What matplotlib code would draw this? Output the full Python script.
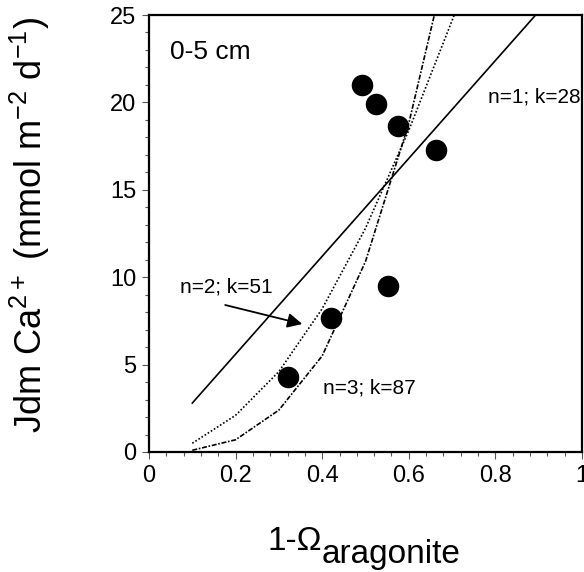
import matplotlib
matplotlib.use("Agg")
import matplotlib.pyplot as plt
from matplotlib.ticker import MultipleLocator

plt.rcParams['font.family'] = ['Liberation Sans', 'DejaVu Sans']
plt.rcParams['mathtext.fontset'] = 'custom'
plt.rcParams['mathtext.rm'] = 'Liberation Sans'
plt.rcParams['mathtext.it'] = 'Liberation Sans'
plt.rcParams['mathtext.bf'] = 'Liberation Sans'

# Observed data points
obs_x = [0.493, 0.524, 0.574, 0.663, 0.552, 0.421, 0.320]
obs_y = [21.0, 19.9, 18.65, 17.3, 9.5, 7.65, 4.3]

# Model curves
n1_x = [0.1, 0.893]
n1_y = [2.8, 25.0]
n2_x = [0.1, 0.2, 0.3, 0.4, 0.5, 0.6, 0.705]
n2_y = [0.5, 2.1, 4.6, 8.2, 12.8, 18.4, 25.0]
n3_x = [0.1, 0.2, 0.3, 0.4, 0.5, 0.6, 0.659]
n3_y = [0.1, 0.7, 2.4, 5.5, 10.9, 18.8, 25.0]

x_ticks = [0, 0.2, 0.4, 0.6, 0.8, 1]
x_ticklabels = ['0', '0.2', '0.4', '0.6', '0.8', '1']
y_ticks = [0, 5, 10, 15, 20, 25]

fig = plt.figure(figsize=(5.84, 5.72), dpi=100)
ax = fig.add_axes([149/584, 1-452/572, (582-149)/584, (452-15)/572])

ax.plot(n1_x, n1_y, color='black', lw=1.2, ls='-')
ax.plot(n2_x, n2_y, color='black', lw=1.2, ls=(0, (1, 1.2)))
ax.plot(n3_x, n3_y, color='black', lw=1.2, ls=(0, (3, 1, 1, 1)))
ax.plot(obs_x, obs_y, 'o', color='black', ms=14.5, ls='none')

ax.set_xlim(0, 1)
ax.set_ylim(0, 25)
ax.set_xticks(x_ticks)
ax.set_xticklabels(x_ticklabels)
ax.set_yticks(y_ticks)
ax.xaxis.set_minor_locator(MultipleLocator(0.04))
ax.yaxis.set_minor_locator(MultipleLocator(1))
ax.tick_params(axis='both', which='major', direction='out', length=5, width=0.8,
               labelsize=17, pad=4, color='#555555')
ax.tick_params(axis='both', which='minor', direction='out', length=3, width=0.8,
               color='#555555')
for s in ax.spines.values():
    s.set_linewidth(1.6)

ax.text(0.049, 22.9, '0-5 cm', fontsize=19, va='center', ha='left')
ax.text(0.783, 20.3, 'n=1; k=28', fontsize=15, va='center', ha='left')
ax.text(0.072, 9.44, 'n=2; k=51', fontsize=15, va='center', ha='left')
ax.text(0.401, 3.66, 'n=3; k=87', fontsize=15, va='center', ha='left')
ax.annotate('', xy=(0.354, 7.32), xytext=(0.176, 8.41),
            arrowprops=dict(arrowstyle='-|>', color='black', lw=1.3,
                            mutation_scale=22, shrinkA=0, shrinkB=0))

fig.text(30/584, 1-225/572, r'Jdm Ca$^{2+}$ (mmol m$^{\mathrm{-2}}$ d$^{\mathrm{-1}}$)',
         rotation=90, fontsize=26, ha='center', va='center')

fig.text(268/584, 1-550/572, '1-\u03A9', fontsize=24, ha='left', va='baseline')
fig.text(322/584, 1-563/572, 'aragonite', fontsize=24, ha='left', va='baseline')

fig.savefig('out.png', dpi=100)
